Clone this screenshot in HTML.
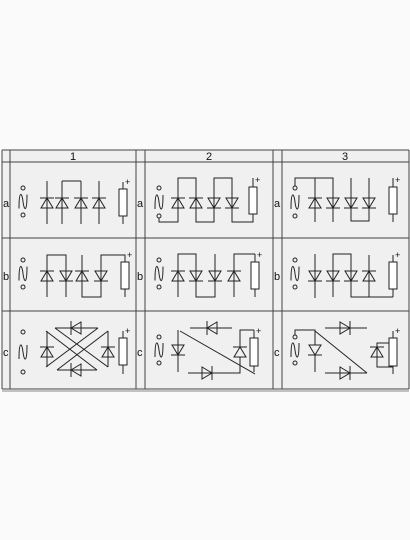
<!DOCTYPE html>
<html><head><meta charset="utf-8"><style>
html,body{margin:0;padding:0;background:#fafafa;width:410px;height:540px;overflow:hidden}
svg{display:block}
text{font-family:"Liberation Sans",sans-serif;font-size:11px;fill:#111}
</style></head><body>
<svg id="s" width="410" height="540">
<rect x="2" y="150" width="407" height="239" fill="#f0f0f0"/>
</svg>
<script>
const S=document.getElementById('s');
const NS='http://www.w3.org/2000/svg';
const LC='#444';
function mk(tag,attrs,name,parent){
  const el=document.createElementNS(NS,tag);
  for(const k in attrs) el.setAttribute(k,attrs[k]);
  
  
  (parent||S).appendChild(el);return el;
}
function L(x1,y1,x2,y2,g,c){return mk('line',{x1,y1,x2,y2,stroke:c||'#222','stroke-width':1},'wire',g);}
function P(pts,g){return mk('polyline',{points:pts.map(p=>p.join(',')).join(' '),fill:'none',stroke:'#222','stroke-width':1},'wire',g);}
const hy=[150,162,238,311,389];
hy.forEach(y=>L(2,y,409,y,null,LC));
L(2,391,409,391,null,'#888');
const vx=[2,10,136,145,273,282,409];
vx.forEach(x=>L(x,150,x,389,null,LC));
const headers=['1','2','3'];const hcx=[73,209,345];
headers.forEach((h,i)=>{const t=mk('text',{x:hcx[i],y:160,'text-anchor':'middle'},'column-header-'+h);t.textContent=h;});
const rows=['a','b','c'];const rcy=[203,276,352];const lx=[3,137,274];
lx.forEach(x=>rows.forEach((r,i)=>{const t=mk('text',{x:x,y:rcy[i]+4},'row-label-'+r);t.textContent=r;}));
function diode(x,cy,dir,g){
  const d=mk('g',{},'diode',g);
  if(dir==='up'){mk('polygon',{points:`${x},${cy-5} ${x-6},${cy+5} ${x+6},${cy+5}`,fill:'#f0f0f0',stroke:'#222'},'diode-triangle',d);L(x-7,cy-5,x+7,cy-5,d);}
  else if(dir==='down'){mk('polygon',{points:`${x},${cy+5} ${x-6},${cy-5} ${x+6},${cy-5}`,fill:'#f0f0f0',stroke:'#222'},'diode-triangle',d);L(x-7,cy+5,x+7,cy+5,d);}
  else if(dir==='left'){mk('polygon',{points:`${x-5},${cy} ${x+5},${cy-6} ${x+5},${cy+6}`,fill:'#f0f0f0',stroke:'#222'},'diode-triangle',d);L(x-5,cy-7,x-5,cy+7,d);}
  else {mk('polygon',{points:`${x+5},${cy} ${x-5},${cy-6} ${x-5},${cy+6}`,fill:'#f0f0f0',stroke:'#222'},'diode-triangle',d);L(x+5,cy-7,x+5,cy+7,d);}
}
function source(x,y1,y2,g){
  mk('circle',{cx:x,cy:y1,r:2,fill:'none',stroke:'#222'},'terminal',g);
  mk('circle',{cx:x,cy:y2,r:2,fill:'none',stroke:'#222'},'terminal',g);
  const m=(y1+y2)/2;
  mk('path',{d:`M${x-4},${m+7} C${x-4},${m-12} ${x-1},${m-9} ${x},${m} C${x+1},${m+9} ${x+4},${m+12} ${x+4},${m-7}`,fill:'none',stroke:'#222'},'ac-sine',g);
}
function resistor(x,y1,y2,top,bot,g){
  L(x,top,x,bot,g);
  mk('rect',{x:x-4,y:y1,width:8,height:y2-y1,fill:'#fff',stroke:'#222'},'load-resistor',g);
  const t=mk('text',{x:x+2,y:y1-4,style:'font-size:9px'},'plus-sign',g);t.textContent='+';
}
let g;
g=mk('g',{},'cell-1a');
source(23,188,215,g);
[47,62,81,99].forEach(x=>{diode(x,203,'up',g);});
L(47,181,47,224,g);L(62,181,62,224,g);L(81,181,81,224,g);L(99,181,99,224,g);L(62,181,81,181,g);
resistor(123,189,216,182,224,g);
g=mk('g',{},'cell-1b');
source(23,260,287,g);
diode(47,276,'up',g);diode(66,276,'down',g);diode(82,276,'up',g);diode(101,276,'down',g);
P([[47,297],[47,255],[66,255],[66,297]],g);
P([[82,255],[82,297],[101,297],[101,255],[125,255],[125,297]],g);
resistor(125,262,289,255,297,g);
g=mk('g',{},'cell-1c');
source(23,332,372,g);
diode(47,352,'up',g);L(47,331,47,367,g);
diode(108,352,'up',g);L(108,331,108,367,g);
diode(76,328,'left',g);L(55,328,98,328,g);
diode(76,370,'left',g);L(57,370,97,370,g);
L(55,328,108,367,g);L(98,328,46,367,g);L(46,331,97,370,g);L(108,331,57,370,g);
resistor(123,338,365,331,374,g);
g=mk('g',{},'cell-2a');
source(159,188,216,g);
diode(178,203,'up',g);diode(196,203,'up',g);diode(214,203,'down',g);diode(232,203,'down',g);
P([[159,218],[159,222],[178,222],[178,178],[196,178],[196,222],[214,222],[214,178],[232,178],[232,222],[253,222],[253,214]],g);
resistor(253,187,214,178,222,g);
g=mk('g',{},'cell-2b');
source(159,260,287,g);
diode(178,276,'up',g);diode(196,276,'down',g);diode(215,276,'down',g);diode(234,276,'up',g);
P([[178,297],[178,254],[196,254],[196,297],[215,297],[215,254]],g);
P([[234,297],[234,254],[255,254]],g);
resistor(255,262,289,254,297,g);
g=mk('g',{},'cell-2c');
source(159,337,363,g);
diode(178,350,'down',g);L(178,330,178,372,g);
diode(212,328,'left',g);L(190,328,232,328,g);
diode(207,373,'right',g);P([[188,373],[240,373],[240,330],[254,330]],g);
diode(240,352,'up',g);
L(180,331,255,374,g);
resistor(254,338,366,330,372,g);
g=mk('g',{},'cell-3a');
source(295,188,216,g);
diode(315,203,'up',g);diode(333,203,'down',g);diode(351,203,'down',g);diode(369,203,'down',g);
P([[295,186],[295,178],[333,178],[333,222]],g);L(315,178,315,222,g);
P([[351,178],[351,221],[369,221],[369,178]],g);
resistor(393,187,214,178,222,g);
g=mk('g',{},'cell-3b');
source(295,260,287,g);
diode(315,276,'down',g);diode(333,276,'down',g);diode(351,276,'down',g);diode(369,276,'up',g);
L(315,254,315,298,g);
P([[333,297],[333,254],[351,254],[351,297],[393,297]],g);
L(369,255,369,297,g);
resistor(393,262,289,255,297,g);
g=mk('g',{},'cell-3c');
source(295,337,363,g);
P([[295,335],[295,330],[315,330],[315,372]],g);
diode(315,350,'down',g);
diode(345,328,'right',g);L(325,328,367,328,g);
diode(345,373,'right',g);L(325,373,367,373,g);
L(315,331,367,373,g);
diode(377,352,'up',g);P([[393,343],[377,343],[377,367],[393,367]],g);
resistor(393,338,366,331,374,g);
</script>
</body></html>
